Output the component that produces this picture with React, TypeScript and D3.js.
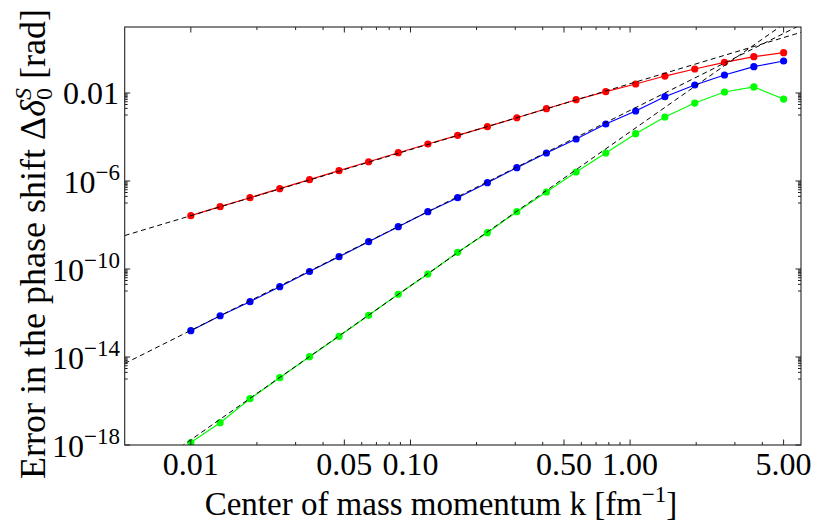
import React from "react";
import * as d3 from "d3";

const kValues = [0.01, 0.0136, 0.0186, 0.0254, 0.0347, 0.0473, 0.0645, 0.088, 0.12, 0.164, 0.224, 0.305, 0.416, 0.568, 0.775, 1.06, 1.44, 1.97, 2.69, 3.66, 5.0];

const redErrors = [2.65e-8, 6.8e-8, 1.74e-7, 4.47e-7, 1.15e-6, 2.94e-6, 7.5e-6, 1.93e-5, 4.8e-5, 1.19e-4, 2.94e-4, 7.5e-4, 1.93e-3, 4.95e-3, 1.15e-2, 2.56e-2, 5.9e-2, 0.123, 0.248, 0.447, 0.679];
const blueErrors = [1.57e-13, 7.5e-13, 3.27e-12, 1.57e-11, 7.7e-11, 3.62e-10, 1.74e-9, 8.4e-9, 4.03e-8, 1.74e-7, 8.4e-7, 4.03e-6, 1.87e-5, 8.1e-5, 3.9e-4, 1.52e-3, 6.8e-3, 0.0231, 0.0658, 0.157, 0.285];
const greenErrors = [1.3e-18, 1.03e-17, 1.27e-16, 1.15e-15, 1.03e-14, 8.7e-14, 7.85e-13, 7.1e-12, 5.9e-11, 5.74e-10, 4.47e-9, 4.03e-8, 3.16e-7, 2.56e-6, 1.87e-5, 1.41e-4, 8.1e-4, 3.5e-3, 0.0111, 0.0188, 5.3e-3];

const seriesColors = ["#ff0000", "#0000ff", "#00ff00"];

// power-law fits: y = A * k^n
const fitCoefficients = [0.0265, 1.62e-3, 1.72e-4];
const fitExponents = [3, 5, 7];

const xMajorTicks = [0.01, 0.05, 0.1, 0.5, 1, 5];
const xMajorLabels = ["0.01", "0.05", "0.10", "0.50", "1.00", "5.00"];
const xMinorTicks = [0.02, 0.03, 0.04, 0.06, 0.07, 0.08, 0.09, 0.2, 0.3, 0.4, 0.6, 0.7, 0.8, 0.9, 2, 3, 4];

const yMajorExponents = [-18, -14, -10, -6, -2];
const yMajorLabels = ["10|−18", "10|−14", "10|−10", "10|−6", "0.01"];

const W = 818;
const H = 526;
const L = 124.7, R = 801, T = 27, B = 445;
const FONT = '"Liberation Serif", "Times New Roman", Times, "DejaVu Serif", serif';
const fs = (size: number) => ({ fontFamily: FONT, fontSize: size + "px" });

export default function App() {
  const x = d3.scaleLog().domain([0.005, 6]).range([L, R]);
  const y = d3.scaleLog().domain([1e-18, 10]).range([B, T]);
  const series = [redErrors, blueErrors, greenErrors];

  const line = d3
    .line<[number, number]>()
    .x((d) => x(d[0]))
    .y((d) => y(d[1]));

  const [x0, x1] = x.domain();

  const yMinor: number[] = [];
  yMajorExponents.forEach((e) => {
    for (let k = 1; k <= 9; k++) {
      const v = k * Math.pow(10, e - 1);
      if (v >= 1e-18 && v <= 10) yMinor.push(v);
    }
  });

  const majLen = 5.5;
  const minLen = 3;

  return (
    <svg width={W} height={H} style={{ position: "absolute", left: 0, top: 0, background: "#fff" }}>
      <defs>
        <clipPath id="plotClip">
          <rect x={L} y={T} width={R - L} height={B - T} />
        </clipPath>
      </defs>
      <g clipPath="url(#plotClip)">
        {series.map((s, i) => (
          <path
            key={"l" + i}
            d={line(kValues.map((k, j) => [k, s[j]] as [number, number])) || ""}
            fill="none"
            stroke={seriesColors[i]}
            strokeWidth={1.2}
          />
        ))}
        {series.map((s, i) =>
          kValues.map((k, j) => (
            <circle key={"p" + i + "-" + j} cx={x(k)} cy={y(s[j])} r={3.6} fill={seriesColors[i]} />
          ))
        )}
        {fitCoefficients.map((a, i) => (
          <path
            key={"f" + i}
            d={line([
              [x0, a * Math.pow(x0, fitExponents[i])],
              [x1, a * Math.pow(x1, fitExponents[i])],
            ]) || ""}
            fill="none"
            stroke="#000"
            strokeWidth={1}
            strokeDasharray="5,3.5"
          />
        ))}
      </g>
      <rect x={L} y={T} width={R - L} height={B - T} fill="none" stroke="#222" strokeWidth={1.1} />
      {xMajorTicks.map((t) => (
        <g key={"xm" + t}>
          <line x1={x(t)} x2={x(t)} y1={B} y2={B - majLen} stroke="#222" />
          <line x1={x(t)} x2={x(t)} y1={T} y2={T + majLen} stroke="#222" />
        </g>
      ))}
      {xMinorTicks.map((t) => (
        <g key={"xn" + t}>
          <line x1={x(t)} x2={x(t)} y1={B} y2={B - minLen} stroke="#222" />
          <line x1={x(t)} x2={x(t)} y1={T} y2={T + minLen} stroke="#222" />
        </g>
      ))}
      {xMajorTicks.map((t, i) => (
        <text key={"xl" + t} x={x(t)} y={475} textAnchor="middle" style={fs(32)} fill="#000">
          {xMajorLabels[i]}
        </text>
      ))}
      {yMajorExponents.map((e) => {
        const v = Math.pow(10, e);
        return (
          <g key={"ym" + e}>
            <line x1={L} x2={L + majLen} y1={y(v)} y2={y(v)} stroke="#222" />
            <line x1={R} x2={R - majLen} y1={y(v)} y2={y(v)} stroke="#222" />
          </g>
        );
      })}
      {yMinor.map((v, i) => (
        <g key={"yn" + i}>
          <line x1={L} x2={L + minLen} y1={y(v)} y2={y(v)} stroke="#222" />
          <line x1={R} x2={R - minLen} y1={y(v)} y2={y(v)} stroke="#222" />
        </g>
      ))}
      {yMajorExponents.map((e, i) => {
        const v = Math.pow(10, e);
        const lab = yMajorLabels[i];
        if (lab.includes("|")) {
          const [base, sup] = lab.split("|");
          return (
            <text key={"yl" + e} x={120} y={y(v) + 12} textAnchor="end" style={fs(32)} fill="#000">
              {base}
              <tspan style={fs(23)} dy={-13}>{sup}</tspan>
            </text>
          );
        }
        return (
          <text key={"yl" + e} x={119} y={y(v) + 10.5} textAnchor="end" style={fs(32)} fill="#000">
            {lab}
          </text>
        );
      })}
      <text x={441} y={515} textAnchor="middle" style={fs(33)} fill="#000">
        Center of mass momentum k [fm
        <tspan style={fs(23)} dy={-13}>−1</tspan>
        <tspan style={fs(33)} dy={13}>]</tspan>
      </text>
      <text transform="translate(45,244) rotate(-90)" textAnchor="middle" style={fs(36)} fill="#000">
        Error in the phase shift Δ
        <tspan style={{ ...fs(36), fontStyle: "italic" }}>δ</tspan>
        <tspan style={fs(24)} dy={7}>0</tspan>
        <tspan style={{ ...fs(24), fontStyle: "italic" }} dx={-12} dy={-21}>S</tspan>
        <tspan style={fs(36)} dy={14}> [rad]</tspan>
      </text>
    </svg>
  );
}
